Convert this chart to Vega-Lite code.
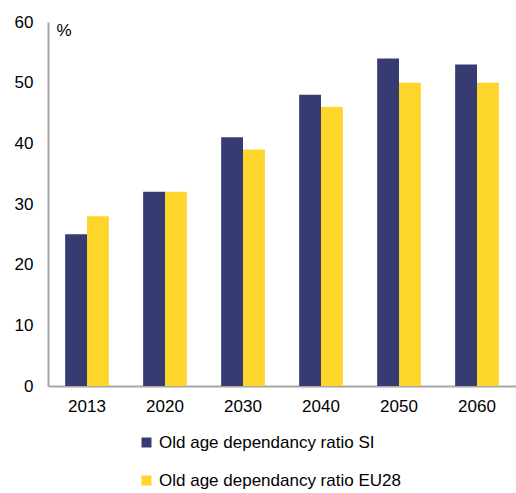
{
  "$schema": "https://vega.github.io/schema/vega-lite/v6.json",
  "width": 468,
  "height": 364,
  "autosize": {"type": "none"},
  "padding": {"left": 48, "top": 22, "right": 0, "bottom": 107},
  "background": "white",
  "config": {
    "view": {"stroke": null},
    "font": "Liberation Sans",
    "axis": {"labelFont": "Liberation Sans", "labelColor": "#000", "labelFontSize": 17, "domainColor": "#a6a6a6", "domainWidth": 2, "ticks": false, "grid": false}
  },
  "data": {"values": [
    {"year": "2013", "series": "Old age dependancy ratio SI", "value": 25},
    {"year": "2013", "series": "Old age dependancy ratio EU28", "value": 28},
    {"year": "2020", "series": "Old age dependancy ratio SI", "value": 32},
    {"year": "2020", "series": "Old age dependancy ratio EU28", "value": 32},
    {"year": "2030", "series": "Old age dependancy ratio SI", "value": 41},
    {"year": "2030", "series": "Old age dependancy ratio EU28", "value": 39},
    {"year": "2040", "series": "Old age dependancy ratio SI", "value": 48},
    {"year": "2040", "series": "Old age dependancy ratio EU28", "value": 46},
    {"year": "2050", "series": "Old age dependancy ratio SI", "value": 54},
    {"year": "2050", "series": "Old age dependancy ratio EU28", "value": 50},
    {"year": "2060", "series": "Old age dependancy ratio SI", "value": 53},
    {"year": "2060", "series": "Old age dependancy ratio EU28", "value": 50}
  ]},
  "mark": {"type": "bar"},
  "encoding": {
    "x": {"field": "year", "type": "nominal", "title": null,
      "scale": {"paddingInner": 0.44, "paddingOuter": 0.22},
      "axis": {"labelAngle": 0, "labelPadding": 12}},
    "xOffset": {"field": "series", "type": "nominal", "sort": ["Old age dependancy ratio SI", "Old age dependancy ratio EU28"]},
    "y": {"field": "value", "type": "quantitative",
      "scale": {"domain": [0, 60], "nice": false},
      "axis": {"values": [0, 10, 20, 30, 40, 50, 60], "labelPadding": 15, "title": "%", "titleAngle": 0, "titleAlign": "left", "titleBaseline": "middle", "titleX": 8, "titleY": 8, "titleFontWeight": "normal", "titleFontSize": 17, "titleFont": "Liberation Sans"}},
    "color": {"field": "series", "type": "nominal",
      "sort": ["Old age dependancy ratio SI", "Old age dependancy ratio EU28"],
      "scale": {"domain": ["Old age dependancy ratio SI", "Old age dependancy ratio EU28"], "range": ["#363c72", "#fed52a"]},
      "legend": {"title": null, "orient": "none", "legendX": 90, "legendY": 412, "direction": "vertical", "symbolType": "square", "symbolSize": 100, "symbolStrokeWidth": 0, "labelFontSize": 17, "labelFont": "Liberation Sans", "labelColor": "#000", "labelLimit": 400, "rowPadding": 20, "labelOffset": 4}}
  }
}
